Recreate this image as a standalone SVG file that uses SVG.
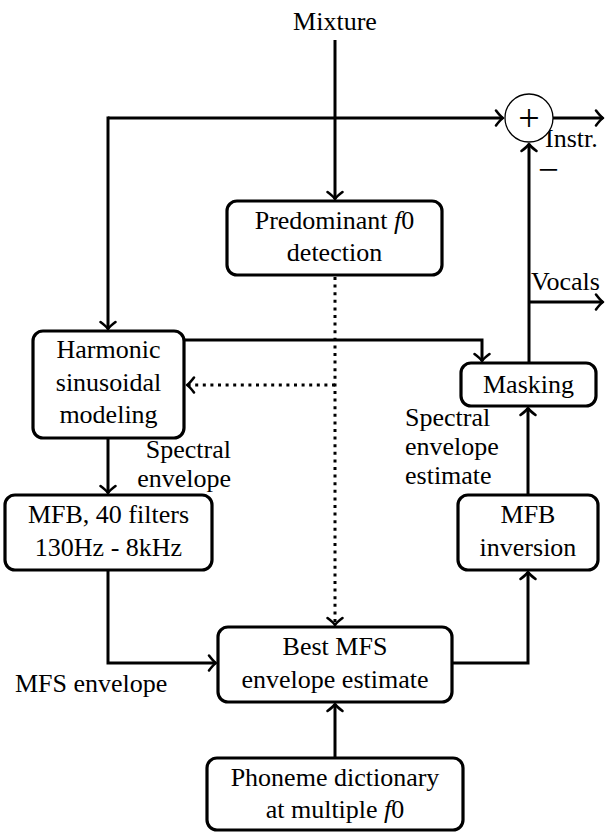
<svg xmlns="http://www.w3.org/2000/svg" width="611" height="832" viewBox="0 0 611 832">
<style>
  text { font-family: "Liberation Serif", "Times New Roman", serif; font-size: 26px; fill: #000; }
  .c { text-anchor: middle; }
  .box { fill: #fff; stroke: #000; stroke-width: 3.2; }
  .ln { fill: none; stroke: #000; stroke-width: 3; }
  .dot { fill: none; stroke: #000; stroke-width: 3; stroke-dasharray: 3 4.6; }
</style>
<defs>
  <marker id="ah" markerUnits="userSpaceOnUse" orient="auto" viewBox="-10 -10 12 20" refX="0" refY="0" markerWidth="12" markerHeight="20" overflow="visible">
    <path d="M-7,-7.5 Q-2.5,-1.5 0,0 Q-2.5,1.5 -7,7.5" fill="none" stroke="#000" stroke-width="2.6" stroke-linecap="round" stroke-linejoin="round"/>
  </marker>
</defs>

<g id="connectors">
  <path class="ln" d="M335,40 V199" marker-end="url(#ah)"/>
  <path class="ln" d="M108,118 H503" marker-end="url(#ah)"/>
  <path class="ln" d="M108,116.5 V329" marker-end="url(#ah)"/>
  <path class="ln" d="M553,118 H603" marker-end="url(#ah)"/>
  <path class="ln" d="M529,363 V144" marker-end="url(#ah)"/>
  <path class="ln" d="M529,302 H603" marker-end="url(#ah)"/>
  <path class="ln" d="M184,340 H482 V361" marker-end="url(#ah)"/>
  <path class="dot" d="M335,277 V625" marker-end="url(#ah)"/>
  <path class="dot" d="M335,385 H187" marker-end="url(#ah)"/>
  <path class="ln" d="M108,438 V493" marker-end="url(#ah)"/>
  <path class="ln" d="M108,570 V663 H216" marker-end="url(#ah)"/>
  <path class="ln" d="M452,663 H528 V572" marker-end="url(#ah)"/>
  <path class="ln" d="M528,495 V408" marker-end="url(#ah)"/>
  <path class="ln" d="M335,758 V704" marker-end="url(#ah)"/>
</g>

<g id="labels">
  <text class="c" x="335" y="30">Mixture</text>
  <text x="545" y="147">Instr.</text>
  <text x="538" y="182" style="font-size:37px">−</text>
  <text x="531" y="290">Vocals</text>
  <text x="231" y="458" text-anchor="end">Spectral</text>
  <text x="231" y="487" text-anchor="end">envelope</text>
  <text x="405" y="426">Spectral</text>
  <text x="405" y="455">envelope</text>
  <text x="405" y="484">estimate</text>
  <text x="15" y="692">MFS envelope</text>
</g>

<g id="sum">
  <circle cx="529" cy="118" r="24" fill="#fff" stroke="#000" stroke-width="1.3"/>
  <text class="c" x="529" y="131" style="font-size:38px">+</text>
</g>

<g id="predominant">
  <rect class="box" x="227" y="201" width="215" height="74" rx="10"/>
  <text class="c" x="334.5" y="229">Predominant <tspan font-style="italic">f</tspan>0</text>
  <text class="c" x="334.5" y="261">detection</text>
</g>

<g id="harmonic">
  <rect class="box" x="33" y="331" width="151" height="107" rx="10"/>
  <text class="c" x="108.5" y="358">Harmonic</text>
  <text class="c" x="108.5" y="391">sinusoidal</text>
  <text class="c" x="108.5" y="423">modeling</text>
</g>

<g id="masking">
  <rect class="box" x="461" y="363" width="135" height="43" rx="10"/>
  <text class="c" x="528.5" y="393">Masking</text>
</g>

<g id="mfb">
  <rect class="box" x="5" y="495" width="207" height="75" rx="10"/>
  <text class="c" x="108.5" y="523">MFB, 40 filters</text>
  <text class="c" x="108.5" y="556">130Hz - 8kHz</text>
</g>

<g id="mfbinv">
  <rect class="box" x="458" y="495" width="140" height="75" rx="10"/>
  <text class="c" x="528" y="523">MFB</text>
  <text class="c" x="528" y="556">inversion</text>
</g>

<g id="best">
  <rect class="box" x="218" y="627" width="234" height="75" rx="10"/>
  <text class="c" x="335" y="655">Best MFS</text>
  <text class="c" x="335" y="688">envelope estimate</text>
</g>

<g id="phoneme">
  <rect class="box" x="207" y="758" width="256" height="72" rx="10"/>
  <text class="c" x="335" y="786">Phoneme dictionary</text>
  <text class="c" x="335" y="818">at multiple <tspan font-style="italic">f</tspan>0</text>
</g>
</svg>
